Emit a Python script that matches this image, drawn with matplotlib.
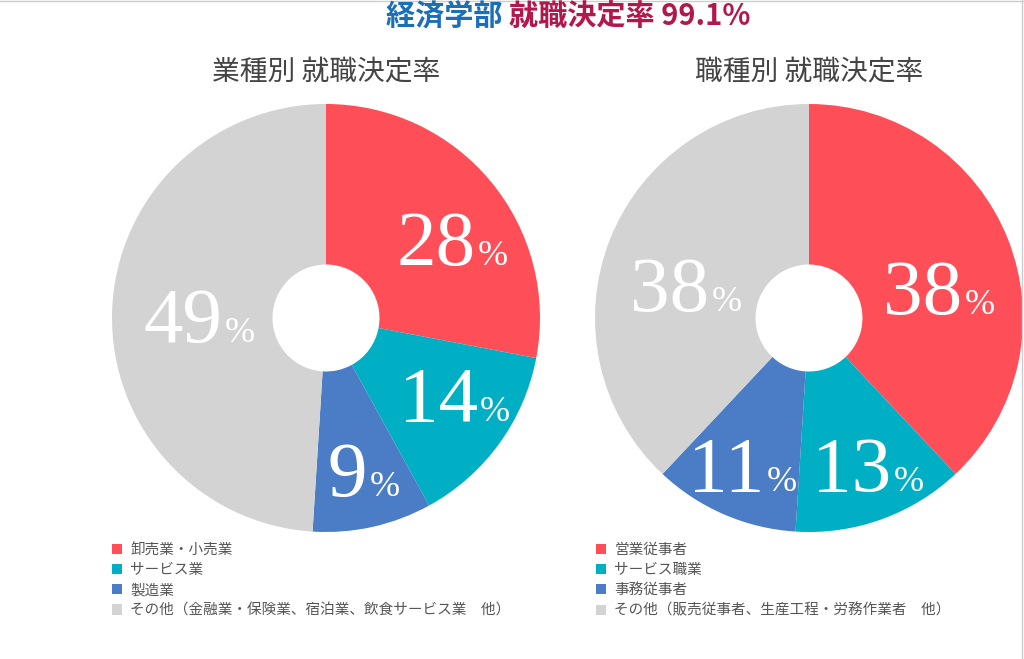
import matplotlib.pyplot as plt
from matplotlib.patches import Patch
from matplotlib.lines import Line2D
import numpy as np

plt.rcParams['font.family'] = ['Noto Sans CJK JP', 'DejaVu Sans']

# data
left_title = '業種別 就職決定率'
left_labels = ['卸売業・小売業', 'サービス業', '製造業', 'その他（金融業・保険業、宿泊業、飲食サービス業　他）']
left_values = [28, 14, 9, 49]

right_title = '職種別 就職決定率'
right_labels = ['営業従事者', 'サービス職業', '事務従事者', 'その他（販売従事者、生産工程・労務作業者　他）']
right_values = [38, 13, 11, 38]

colors = ['#FE4F59', '#00AFC3', '#4A7DC6', '#D3D3D3']

W, H = 1024, 659
fig = plt.figure(figsize=(W / 100, H / 100), dpi=100)

R = 214  # pie radius in px
PT = 0.72  # px -> pt at 100 dpi


def donut(cx, cy, values, labels, title, legend_x, label_r, label_turn):
    ax = fig.add_axes([(cx - R) / W, (H - cy - R) / H, 2 * R / W, 2 * R / H])
    ax.pie(values, colors=colors, startangle=90, counterclock=False,
           radius=1, wedgeprops=dict(width=0.75, linewidth=0))
    ax.set_xlim(-1, 1)
    ax.set_ylim(-1, 1)
    ax.axis('off')

    # percentage labels: big serif number + small %
    total = sum(values)
    start = 90
    for v, r, turn in zip(values, label_r, label_turn):
        mid = start - v / total * 180
        start -= v / total * 360
        ang = np.deg2rad(mid + turn)
        x, y = r * np.cos(ang), r * np.sin(ang)
        num = str(v)
        num_w = 40 * len(num)
        pct_w = 31
        right = -(num_w + pct_w + 2) / 2 + num_w
        ax.annotate(num, (x, y), xytext=(right * PT, -26 * PT), textcoords='offset points',
                    ha='right', va='baseline', color='white', fontsize=57,
                    family='Liberation Serif')
        ax.annotate('%', (x, y), xytext=((right + 2) * PT, -26 * PT), textcoords='offset points',
                    ha='left', va='baseline', color='white', fontsize=26,
                    family='Liberation Serif')

    fig.text(cx / W, 1 - 72 / H, title, ha='center', va='center',
             fontsize=20, color='#444444')

    handles = [Patch(facecolor=c, edgecolor='none') for c in colors]
    fig.legend(handles, labels, loc='upper left',
               bbox_to_anchor=(legend_x / W, 1 - 543 / H),
               frameon=False, fontsize=10.5, labelcolor='#555555',
               handlelength=0.7, handleheight=0.7, handletextpad=0.55,
               labelspacing=0.42, borderaxespad=0, borderpad=0)


donut(326, 318, left_values, left_labels, left_title, 112,
      [0.695, 0.70, 0.73, 0.593], [-7.5, 5.2, 1.4, 0.9])
donut(809, 318, right_values, right_labels, right_title, 596,
      [0.623, 0.74, 0.757, 0.595], [-8.6, 2.1, -1.4, 6.6])

# main title in two colours
fig.text(0.497, 1 - 17 / H, '経済学部 ', ha='right', va='center',
         fontsize=21, fontweight='bold', color='#1A6FB8')
fig.text(0.497, 1 - 17 / H, '就職決定率 99.1%', ha='left', va='center',
         fontsize=21, fontweight='bold', color='#B3174B')

# thin frame lines at top and right
fig.add_artist(Line2D([0, 1], [1 - 1 / H, 1 - 1 / H], color='#CCCCCC', linewidth=1))
fig.add_artist(Line2D([1 - 2 / W, 1 - 2 / W], [0, 1], color='#CCCCCC', linewidth=1))

fig.savefig('out.png', dpi=100, facecolor='white')
